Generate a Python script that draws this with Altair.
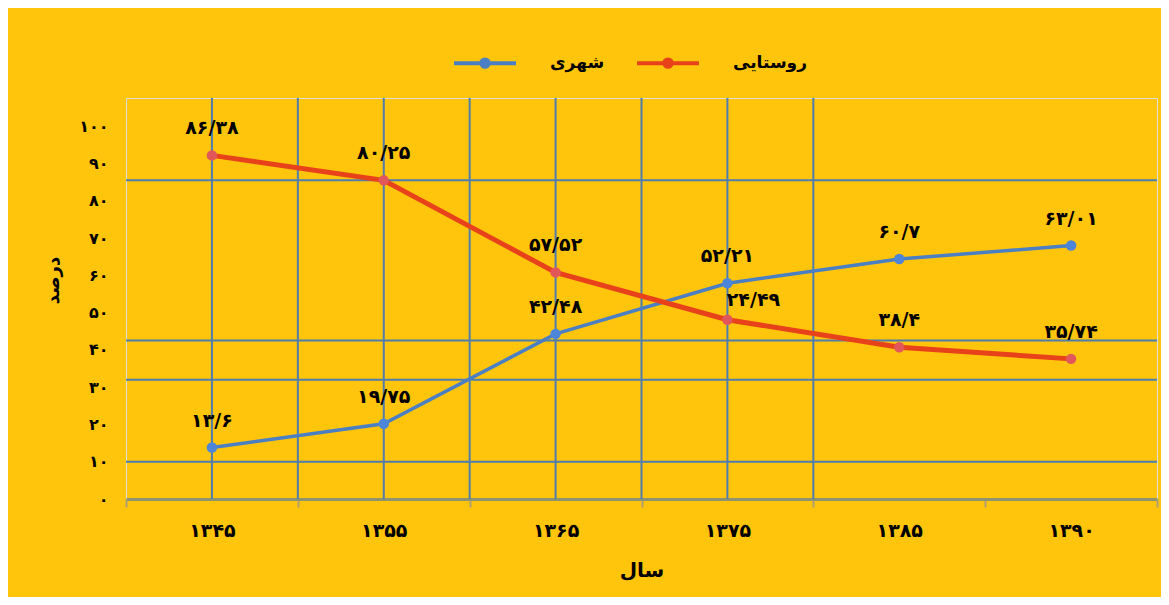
import json
import altair as alt
import pandas as pd

# ---- data ----
years = ['۱۳۴۵', '۱۳۵۵', '۱۳۶۵', '۱۳۷۵', '۱۳۸۵', '۱۳۹۰']
series_names = ['شهری', 'روستایی']
urban_values = [13.8, 20.2, 44.3, 57.9, 64.4, 68.0]
rural_values = [92.2, 85.5, 60.8, 48.1, 40.7, 37.6]
urban_labels = ['۱۳/۶', '۱۹/۷۵', '۴۲/۴۸', '۵۲/۲۱', '۶۰/۷', '۶۳/۰۱']
rural_labels = ['۸۶/۳۸', '۸۰/۲۵', '۵۷/۵۲', '۲۴/۴۹', '۳۸/۴', '۳۵/۷۴']
y_tick_labels = ['۰', '۱۰', '۲۰', '۳۰', '۴۰', '۵۰', '۶۰', '۷۰', '۸۰', '۹۰', '۱۰۰']
grid_y = [10, 32, 42.5, 85.5]
grid_x = [0, 0.5, 1, 1.5, 2, 2.5, 3, 3.5]

rows = []
for i, y in enumerate(years):
    rows.append({'idx': i, 'year': y, 'series': series_names[0],
                 'value': urban_values[i], 'label': urban_labels[i]})
for i, y in enumerate(years):
    rows.append({'idx': i, 'year': y, 'series': series_names[1],
                 'value': rural_values[i], 'label': rural_labels[i]})
df = pd.DataFrame(rows)

FONT = 'DejaVu Sans'
BLUE = '#4A7FC4'
RED = '#E8421B'
GRID = '#4F7DAE'

xscale = alt.Scale(domain=[-0.5, 5.5], nice=False, zero=False)
yscale = alt.Scale(domain=[0, 107.6], nice=False, zero=True)

x_vals = [v / 2 for v in range(-1, 12)]
x_axis = alt.Axis(
    values=x_vals,
    labelExpr="datum.value % 1 === 0 ? " + json.dumps(years, ensure_ascii=False) + "[datum.value] : ''",
    grid=False, tickSize=8, tickWidth=2, tickColor='#B0A070',
    tickOpacity=alt.condition("datum.value % 1 !== 0", alt.value(1), alt.value(0)),
    domainColor='#8E9470', domainWidth=3,
    labelPadding=14, labelFontSize=19, labelFontWeight='bold', labelColor='black',
    labelFont=FONT,
    title='سال', titleFontSize=20, titleFontWeight='bold', titleFont=FONT,
    titleY=71, titleBaseline='middle', titleColor='black',
)
y_axis = alt.Axis(
    values=list(range(0, 101, 10)),
    labelExpr=json.dumps(y_tick_labels, ensure_ascii=False) + "[round(datum.value / 10)]",
    grid=False, ticks=False, domain=False,
    labelPadding=18, labelFontSize=16, labelFontWeight='bold', labelColor='black',
    labelFont=FONT,
    title='درصد', titleFontSize=18, titleFontWeight='bold', titleFont=FONT,
    titleX=-73, titleY=182, titleBaseline='middle', titleAngle=270, titleColor='black',
)

base = alt.Chart(df)

gy = alt.Chart(pd.DataFrame({'g': grid_y})).mark_rule(color=GRID, strokeWidth=2).encode(
    y=alt.Y('g:Q', scale=yscale, axis=y_axis))
gx = alt.Chart(pd.DataFrame({'g': grid_x})).mark_rule(color=GRID, strokeWidth=2).encode(
    x=alt.X('g:Q', scale=xscale, axis=x_axis))

legend_path = ("M-1,0H1M-0.12,0A0.12,0.12,0,1,1,0.12,0A0.12,0.12,0,1,1,-0.12,0Z")
color = alt.Color('series:N', scale=alt.Scale(domain=series_names, range=[BLUE, RED]),
                  legend=alt.Legend(orient='none', legendX=326, legendY=-68,
                                    direction='horizontal', title=None,
                                    symbolType=legend_path, symbolSize=3844,
                                    symbolStrokeWidth=4,
                                    labelFont=FONT, labelFontSize=17, labelFontWeight='bold',
                                    labelColor='black', labelOffset=32, columnPadding=24,
                                    padding=0))

def line_for(name, width):
    return base.transform_filter(alt.datum.series == name).mark_line(
        strokeWidth=width).encode(
        x=alt.X('idx:Q', scale=xscale, axis=x_axis),
        y=alt.Y('value:Q', scale=yscale, axis=y_axis),
        color=color)

blue_line = line_for(series_names[0], 3.5)
red_line = line_for(series_names[1], 5)

points = base.mark_circle(size=110, opacity=1).encode(
    x=alt.X('idx:Q', scale=xscale, axis=x_axis),
    y=alt.Y('value:Q', scale=yscale, axis=y_axis),
    fill=alt.Fill('series:N', scale=alt.Scale(domain=series_names, range=['#4D86D8', '#E2585A']),
                  legend=None))

special = (alt.datum.series == series_names[1]) & (alt.datum.year == years[3])
labels = base.transform_filter(~special).mark_text(
    font=FONT, fontSize=19, fontWeight='bold', color='black', dy=-27, baseline='middle').encode(
    x=alt.X('idx:Q', scale=xscale, axis=x_axis),
    y=alt.Y('value:Q', scale=yscale, axis=y_axis),
    text='label:N')
labels2 = base.transform_filter(special).mark_text(
    font=FONT, fontSize=19, fontWeight='bold', color='black', dx=26, dy=-20, baseline='middle').encode(
    x=alt.X('idx:Q', scale=xscale, axis=x_axis),
    y=alt.Y('value:Q', scale=yscale, axis=y_axis),
    text='label:N')

chart = alt.layer(gy, gx, blue_line, red_line, points, labels, labels2).properties(
    width=1031, height=401,
    autosize=alt.AutoSizeParams(type='none'),
    padding={'left': 118, 'top': 90, 'right': 4, 'bottom': 98},
    background='#FFC40C',
).configure_view(fill='#9BCB55', stroke=None).configure(font=FONT)

chart.save("out.html", embed_options={"renderer": "svg", "actions": False})
